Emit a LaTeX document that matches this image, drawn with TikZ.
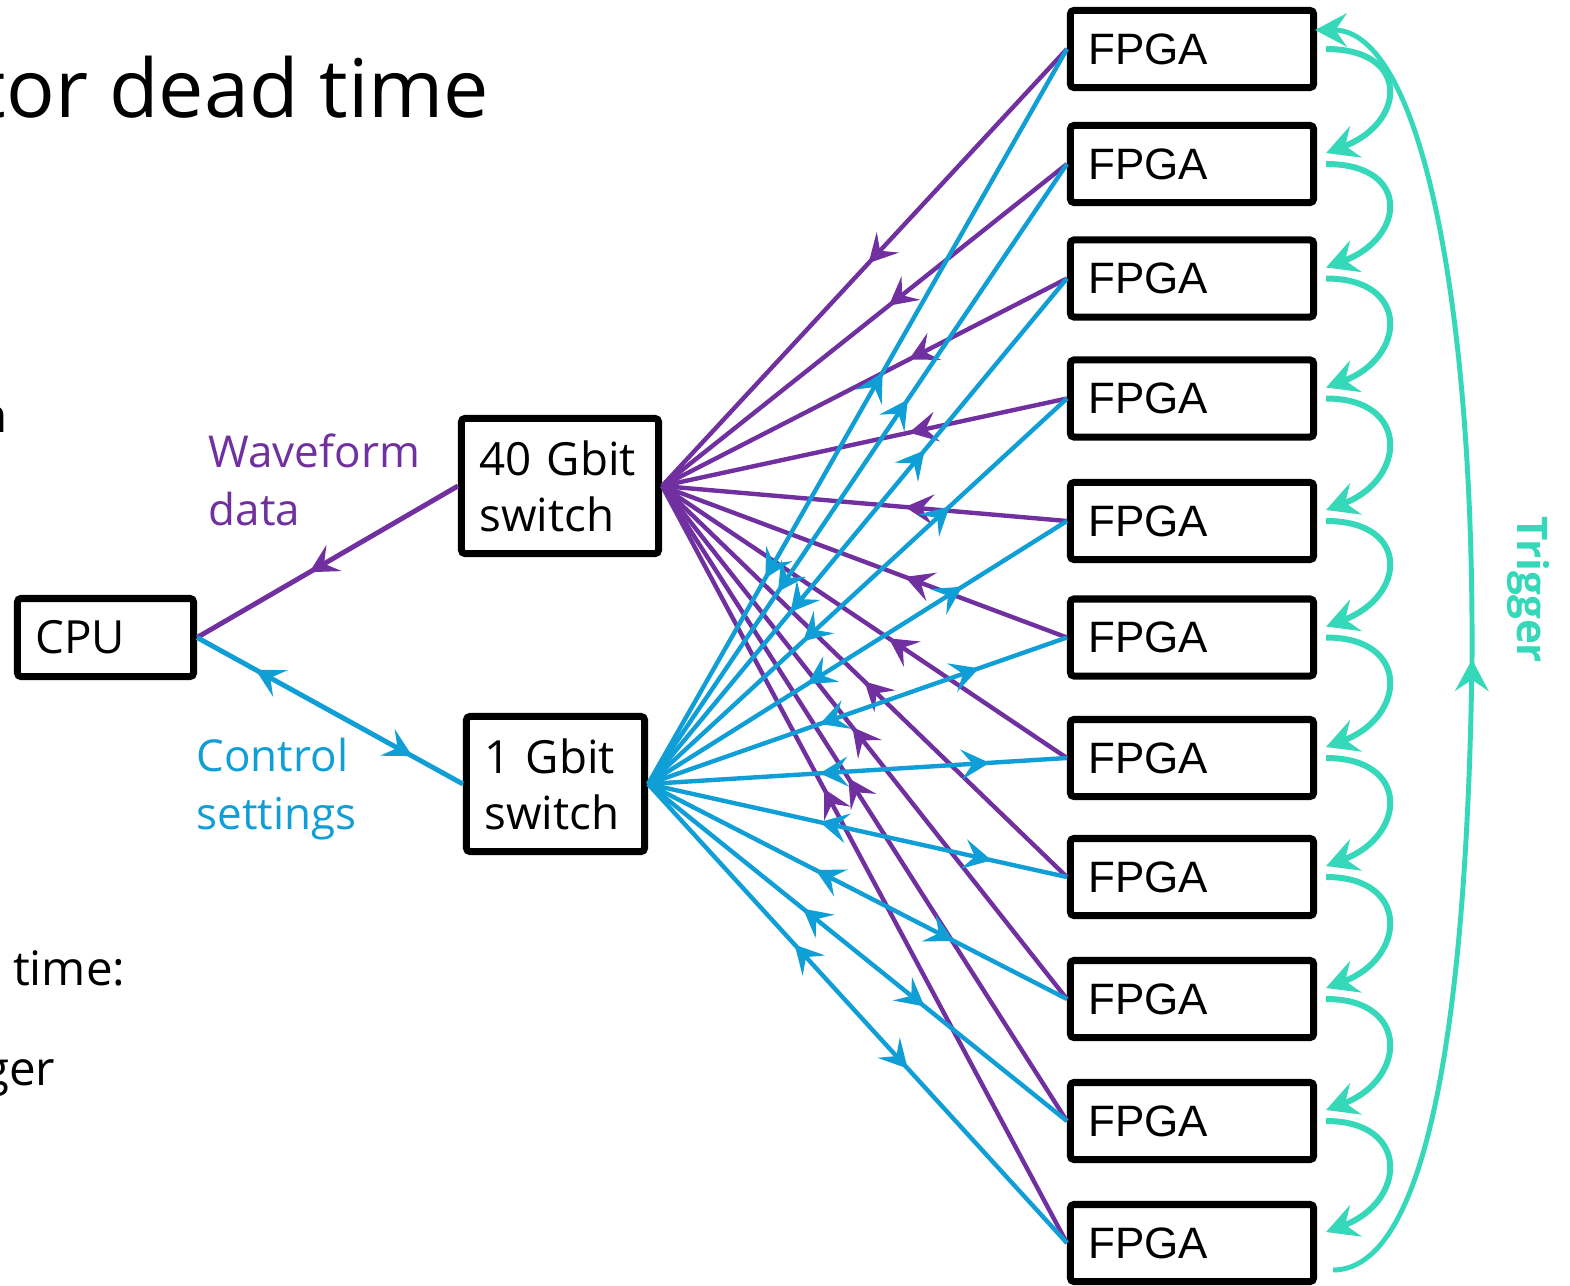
\documentclass[tikz,border=0pt]{standalone}
\usepackage{fontspec}
\setmainfont{Open Sans}
\newfontfamily\arialfont{Liberation Sans}
\usepackage{tikz}
\usetikzlibrary{calc,arrows.meta,decorations.markings}
\definecolor{wavec}{HTML}{7030A0}
\definecolor{ctrlc}{HTML}{0F9ED5}
\definecolor{trigc}{HTML}{35D8B9}
\tikzset{
  midtip/.tip={Stealth[length=8pt,width=8.5pt,inset=3.2pt]},
  trigtip/.tip={Stealth[length=9pt,width=9.5pt,inset=3.2pt]},
  box/.style={draw=black,line width=2pt,rounded corners=1pt,fill=white,inner xsep=0.18cm,inner ysep=0pt,align=left},
  fpga/.style={box,minimum height=0.77cm,text width=2.07cm,font=\arialfont\fontsize{12.5}{15}\selectfont},
  swbox/.style={box,minimum height=1.35cm,font=\fontsize{13}{16}\selectfont},
  wv/.style={wavec,line width=1.25pt},
  ct/.style={ctrlc,line width=1.25pt},
  trig/.style={trigc,line width=1.7pt},
  fwd/.style={postaction={decorate},decoration={markings,mark=at position #1 with {\arrow{midtip}}}},
  twoway/.style 2 args={postaction={decorate},decoration={markings,
    mark=at position #1 with {\arrowreversed{midtip}},mark=at position #2 with {\arrow{midtip}}}},
  lbl/.style={inner sep=0pt,align=left,font=\fontsize{12.5}{16.5}\selectfont},
  cut/.style={anchor=base east,inner sep=0pt,font=\fontsize{13.5}{16}\selectfont}
}
\begin{document}
\begin{tikzpicture}[x=0.01cm,y=-0.01cm]
\path[use as bounding box,fill=white] (0,0) rectangle (1570,1285);
% slide text cut at the left
\node[anchor=base east,inner sep=0pt,font=\fontsize{23}{27}\selectfont] (ttl) at (490,118) {tor dead time};
\node[cut] (txa) at (8,432) {n};
\node[cut] (txb) at (126,985) {time:};
\node[cut] (txc) at (56,1085) {ger};
% hosts and switches
\node[box,text width=1.40cm,minimum height=0.78cm,font=\fontsize{13}{16}\selectfont] (cpu) at (105.5,637.5) {CPU};
\node[swbox,text width=1.61cm] (sw40) at (560,486) {40 Gbit\\switch};
\node[swbox,text width=1.42cm] (sw1) at (555.5,784) {1 Gbit\\switch};
\node[lbl,wavec,anchor=north west] (wlab) at (208,433) {Waveform\\data};
\node[lbl,ctrlc,anchor=north west] (clab) at (196,737) {Control\\settings};
\draw[wv,line width=1.4pt,fwd=0.57] (sw40.west) -- (cpu.east);
\draw[ct,line width=1.4pt,twoway={0.22}{0.81}] (cpu.east) -- (sw1.west);
% FPGA column
\foreach \i/\y in {1/49,2/164,3/278.5,4/398.5,5/521,6/637.5,7/758,8/877,9/999,10/1121,11/1243}
  \node[fpga] (f\i) at (1192,\y) {FPGA};
\foreach \i/\p in {1/0.49,2/0.44,3/0.39,4/0.39,5/0.40,6/0.40,7/0.44,8/0.50,9/0.53,10/0.54,11/0.60}
  \draw[wv,fwd=\p] (f\i.west) -- (sw40.east);
\foreach \i/\b/\f in {1/0.28/0.56,2/0.31/0.62,3/0.34/0.66,4/0.37/0.72,5/0.38/0.75,6/0.41/0.79,
                      7/0.41/0.815,8/0.41/0.82,9/0.40/0.73,10/0.37/0.66,11/0.35/0.62}
  \draw[ct,twoway={\b}{\f}] (sw1.east) -- (f\i.west);
% trigger chain
\foreach \i [evaluate=\i as \j using int(\i+1)] in {1,...,10}
  \draw[trig,-trigtip] ($(f\i.east)+(9,0)$) .. controls +(85,0) and +(80,-30) .. ($(f\j.east)+(9,-11)$);
\draw[trig,line width=1.4pt,-trigtip,postaction={decorate},decoration={markings,mark=at position 0.49 with {\arrow{trigtip}}}]
  ($(f11.east)+(16,27)$) .. controls (1440,1270) and (1468,950) .. (1472,660)
  .. controls (1474,300) and (1420,30) .. ($(f1.east)+(-2,-19)$);
\node[rotate=-90,trigc,inner sep=0pt,font=\bfseries\fontsize{12}{14}\selectfont] (trg) at (1528,590) {Trigger};
\end{tikzpicture}
\end{document}
